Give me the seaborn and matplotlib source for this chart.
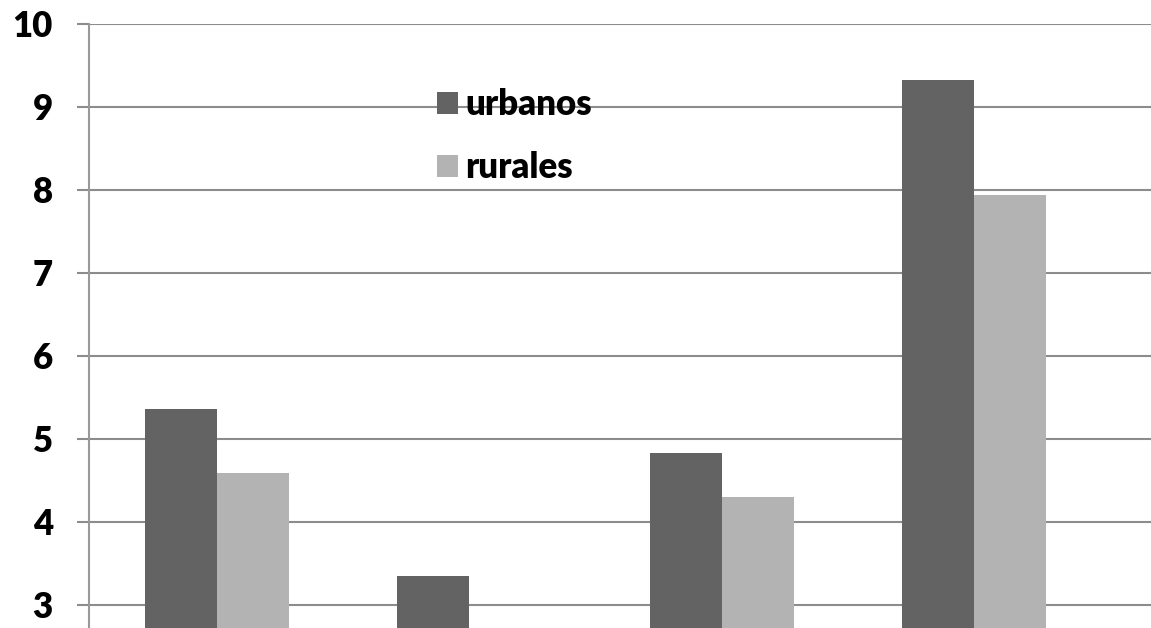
import pandas as pd
import numpy as np
import matplotlib
matplotlib.use('Agg')
import matplotlib.pyplot as plt
import seaborn as sns

# ─── Data ─────────────────────────────────────────────────────
groups = ['A', 'B', 'C', 'D']
urbanos = [5.36, 3.35, 4.83, 9.33]
rurales = [4.59, np.nan, 4.30, 7.94]
series = ['urbanos', 'rurales']
colors = ['#636363', '#b3b3b3']
yticks = [3, 4, 5, 6, 7, 8, 9, 10]

df = pd.DataFrame({
    'grupo': groups * 2,
    'serie': ['urbanos'] * len(groups) + ['rurales'] * len(groups),
    'valor': urbanos + rurales,
})

# ─── Plot ─────────────────────────────────────────────────────
sns.set_theme(style='white')
plt.rcParams['font.family'] = ['Lato', 'DejaVu Sans']

fig = plt.figure(figsize=(11.51, 6.28), dpi=100)
ax = fig.add_axes([89 / 1151, 0, 1 - 89 / 1151, (628 - 24) / 628])

sns.barplot(
    data=df, x='grupo', y='valor', hue='serie',
    hue_order=series, palette=colors, order=groups,
    width=0.57, errorbar=None, linewidth=0, saturation=1, ax=ax,
)

ax.set_ylim(2.72, 10)
ax.set_xlim(-0.507, 3.70)
ax.set_yticks(yticks)
ax.set_yticklabels([str(t) for t in yticks], fontsize=25, fontweight='heavy', color='black')
ax.set_xticks([])
ax.set_xlabel('')
ax.set_ylabel('')

ax.yaxis.grid(True, color='#8c8c8c', linewidth=1.5)
ax.set_axisbelow(True)
ax.tick_params(axis='y', length=9, width=1.5, color='#8c8c8c', pad=17, left=True)

for side in ['top', 'right', 'bottom']:
    ax.spines[side].set_visible(False)
ax.spines['left'].set_color('#999999')
ax.spines['left'].set_linewidth(1.5)

leg = ax.legend(
    loc='upper left', bbox_to_anchor=(0.298, 0.945), frameon=False,
    handlelength=0.6, handleheight=0.6, handletextpad=0.22, labelspacing=0.85,
    prop={'size': 25, 'weight': 'heavy'},
)
for t in leg.get_texts():
    t.set_color('black')

plt.savefig('out.png', dpi=100)
